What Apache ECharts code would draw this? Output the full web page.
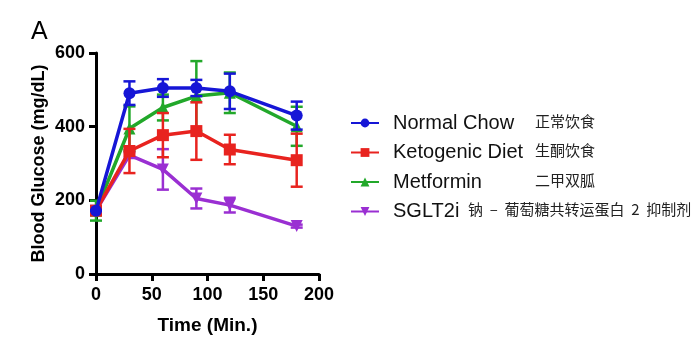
<!DOCTYPE html>
<html>
<head>
<meta charset="utf-8">
<script src="https://cdn.jsdelivr.net/npm/echarts@6/dist/echarts.min.js"></script>
<style>
  html, body { margin: 0; padding: 0; background: #fff; }
  #chart { width: 699px; height: 354px; }
</style>
</head>
<body>
<div id="chart"></div>
<script>
// 时间点 (min)
var times = [0, 30, 60, 90, 120, 180];
var xTicks = [0, 50, 100, 150, 200];
var yTicks = [0, 200, 400, 600];

// 各组均值与误差
var normalChow = [172, 491, 505, 505, 496, 430];
var normalChowErr = [0, 32, 24, 22, 48, 38];
var ketogenic = [172, 334, 377, 388, 338, 309];
var ketogenicErr = [0, 60, 60, 78, 40, 72];
var metformin = [172, 395, 452, 483, 492, 401];
var metforminErr = [27, 60, 35, 95, 55, 53];
var sglt2i = [172, 323, 284, 205, 187, 130];
var sglt2iErr = [0, 8, 55, 27, 20, 4];

var FONT = "'Liberation Sans', Arial, sans-serif";

var groups = [
  { name: 'Normal Chow', cn: '正常饮食', vals: normalChow, err: normalChowErr, color: '#1616d6', symbol: 'circle', size: 12 },
  { name: 'Ketogenic Diet', cn: '生酮饮食', vals: ketogenic, err: ketogenicErr, color: '#e8231f', symbol: 'rect', size: 12 },
  { name: 'Metformin', cn: '二甲双胍', vals: metformin, err: metforminErr, color: '#22a82a', symbol: 'triangle', size: 12 },
  { name: 'SGLT2i', cn: '钠  –  葡萄糖共转运蛋白  2  抑制剂', vals: sglt2i, err: sglt2iErr, color: '#9a2fd2', symbol: 'path://M0,0 L10,0 L5,9 Z', size: 12 }
];

var chart = echarts.init(document.getElementById('chart'));

var series = [];
groups.forEach(function (g, i) {
  var z = 10 - i * 2;
  series.push({
    name: g.name,
    type: 'line',
    data: times.map(function (t, k) { return [t, g.vals[k]]; }),
    symbol: g.symbol,
    symbolSize: g.size,
    showSymbol: true,
    lineStyle: { color: g.color, width: 3.5 },
    itemStyle: { color: g.color },
    z: z,
    animation: false
  });
  series.push({
    name: g.name,
    type: 'custom',
    z: z,
    data: times.map(function (t, k) { return [t, g.vals[k] - g.err[k], g.vals[k] + g.err[k]]; }),
    renderItem: function (params, api) {
      var lo = api.coord([api.value(0), api.value(1)]);
      var hi = api.coord([api.value(0), api.value(2)]);
      var w = 6;
      var st = { stroke: g.color, lineWidth: 2.5 };
      return {
        type: 'group',
        children: [
          { type: 'line', shape: { x1: lo[0], y1: lo[1], x2: hi[0], y2: hi[1] }, style: st },
          { type: 'line', shape: { x1: lo[0] - w, y1: lo[1], x2: lo[0] + w, y2: lo[1] }, style: st },
          { type: 'line', shape: { x1: hi[0] - w, y1: hi[1], x2: hi[0] + w, y2: hi[1] }, style: st }
        ]
      };
    },
    encode: { x: 0, y: [1, 2] },
    animation: false
  });
});

var cnTexts = groups.map(function (g, i) {
  return {
    type: 'text',
    x: i < 3 ? 535 : 468,
    y: 121 + i * 29.5,
    style: { text: g.cn, fontSize: 15, fill: '#222', fontFamily: 'Noto Sans CJK SC', verticalAlign: 'middle' }
  };
});

var option = {
  backgroundColor: '#fff',
  animation: false,
  grid: { left: 96, right: 380, top: 53, bottom: 80 },
  title: {
    text: 'A', left: 26, top: 15,
    textStyle: { fontSize: 25, fontWeight: 'normal', color: '#000', fontFamily: FONT }
  },
  legend: {
    data: groups.map(function (g) { return g.name; }),
    orient: 'vertical',
    left: 345,
    top: 108,
    itemWidth: 28,
    itemHeight: 11,
    itemGap: 9.5,
    textStyle: { fontSize: 20, color: '#111', fontFamily: FONT, padding: [0, 0, 0, 9], lineHeight: 20 }
  },
  xAxis: {
    type: 'value',
    min: 0, max: 200, interval: 50,
    name: 'Time (Min.)',
    nameLocation: 'middle',
    nameGap: 42,
    nameTextStyle: { fontSize: 19, fontWeight: 'bold', color: '#000', fontFamily: FONT },
    axisLine: { show: true, lineStyle: { color: '#000', width: 3 } },
    axisTick: { show: true, length: 7, lineStyle: { color: '#000', width: 3 } },
    axisLabel: {
      fontSize: 18, fontWeight: 'bold', color: '#000', margin: 12, fontFamily: FONT,
      customValues: xTicks
    },
    splitLine: { show: false }
  },
  yAxis: {
    type: 'value',
    min: 0, max: 600, interval: 200,
    name: 'Blood Glucose (mg/dL)',
    nameLocation: 'middle',
    nameGap: 48,
    nameTextStyle: { fontSize: 18, fontWeight: 'bold', color: '#000', fontFamily: FONT },
    axisLine: { show: true, lineStyle: { color: '#000', width: 3 } },
    axisTick: { show: true, length: 7, lineStyle: { color: '#000', width: 3 } },
    axisLabel: {
      fontSize: 18, fontWeight: 'bold', color: '#000', margin: 11, fontFamily: FONT,
      customValues: yTicks
    },
    splitLine: { show: false }
  },
  graphic: cnTexts,
  series: series
};

chart.setOption(option);
</script>
</body>
</html>
